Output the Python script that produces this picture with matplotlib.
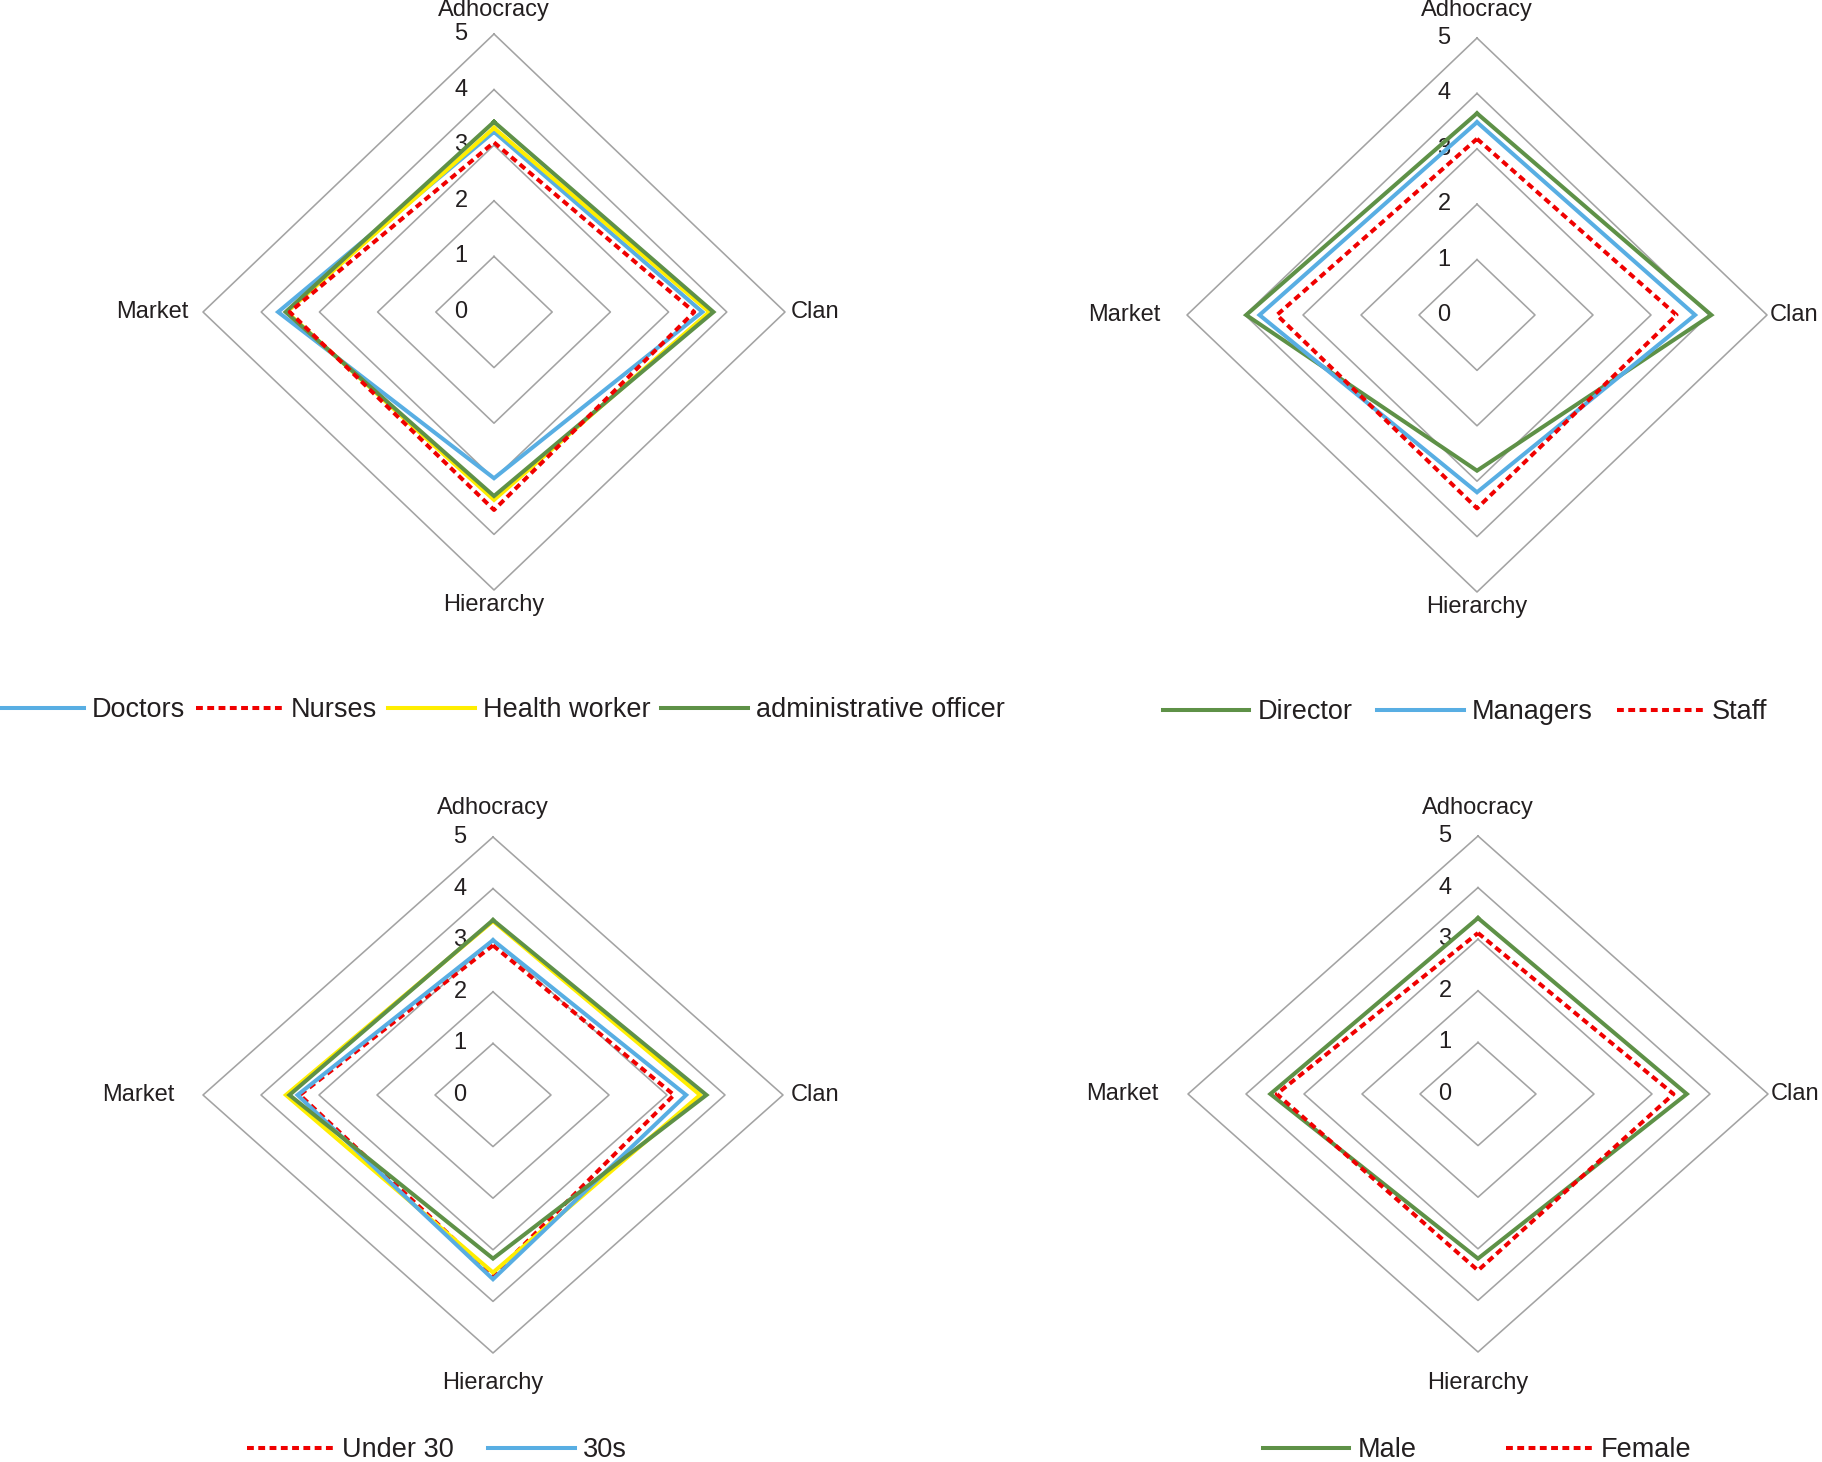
import matplotlib
matplotlib.use('Agg')
import matplotlib.pyplot as plt
from matplotlib.transforms import offset_copy

plt.rcParams['font.family'] = ['Liberation Sans', 'DejaVu Sans']

# ---------------- data ----------------
categories = ['Adhocracy', 'Clan', 'Hierarchy', 'Market']
tick_values = [0, 1, 2, 3, 4, 5]

# panel 1: occupation
p1_labels = ['Doctors', 'Nurses', 'Health worker', 'administrative officer']
p1_doctors = [3.24, 3.58, 2.99, 3.71]
p1_nurses = [3.05, 3.44, 3.56, 3.51]
p1_health = [3.31, 3.70, 3.38, 3.56]
p1_admin = [3.42, 3.77, 3.31, 3.58]

# panel 2: position
p2_labels = ['Director', 'Managers', 'Staff']
p2_director = [3.64, 4.04, 2.81, 3.98]
p2_managers = [3.48, 3.76, 3.20, 3.75]
p2_staff = [3.18, 3.44, 3.49, 3.45]

# panel 3: age
p3_labels = ['Under 30', '30s', '40s', '50s and over']
p3_under30 = [2.90, 3.12, 3.50, 3.33]
p3_30s = [3.00, 3.33, 3.57, 3.37]
p3_40s = [3.37, 3.57, 3.44, 3.57]
p3_50s = [3.39, 3.68, 3.17, 3.51]

# panel 4: gender
p4_labels = ['Male', 'Female']
p4_male = [3.41, 3.60, 3.19, 3.58]
p4_female = [3.12, 3.37, 3.42, 3.47]

# ---------------- styles ----------------
W, H, DPI = 1822, 1462, 100
BLUE = '#58AEE3'
RED = '#F00000'
YELLOW = '#FFEE00'
GREEN = '#5E9147'
GRID = '#A3A3A3'
TXT = '#231F20'
LW = 2.9
DASH = (1.7, 1.1)
DIRS = [(0, 1), (1, 0), (0, -1), (-1, 0)]

fig = plt.figure(figsize=(W / DPI, H / DPI), dpi=DPI)


def make_ax(cx, cy, rx, ry):
    ax = fig.add_axes([(cx - rx) / W, 1 - (cy + ry) / H, 2 * rx / W, 2 * ry / H])
    ax.set_xlim(-5, 5)
    ax.set_ylim(-5, 5)
    ax.axis('off')
    return ax


def poly(vals):
    xs = [d[0] * v for d, v in zip(DIRS, vals)]
    ys = [d[1] * v for d, v in zip(DIRS, vals)]
    return xs + xs[:1], ys + ys[:1]


def decorate(ax, gaps):
    top, right, bottom, left = gaps
    for t in tick_values[1:]:
        xs, ys = poly([t] * 4)
        ax.plot(xs, ys, color=GRID, lw=1.15, zorder=1, clip_on=False)
    tr = offset_copy(ax.transData, fig=fig, x=-33, y=0, units='dots')
    for t in tick_values:
        ax.text(0, t, str(t), transform=tr, ha='center', va='center',
                fontsize=17, color=TXT, zorder=2)
    ax.text(0, 5, categories[0], ha='center', va='center', fontsize=17, color=TXT,
            transform=offset_copy(ax.transData, fig=fig, x=0, y=top, units='dots'))
    ax.text(5, 0, categories[1], ha='left', va='center', fontsize=17, color=TXT,
            transform=offset_copy(ax.transData, fig=fig, x=right, y=0, units='dots'))
    ax.text(0, -5, categories[2], ha='center', va='center', fontsize=17, color=TXT,
            transform=offset_copy(ax.transData, fig=fig, x=0, y=-bottom, units='dots'))
    ax.text(-5, 0, categories[3], ha='right', va='center', fontsize=17, color=TXT,
            transform=offset_copy(ax.transData, fig=fig, x=-left, y=0, units='dots'))


def series(ax, vals, color, dashed=False, z=3):
    xs, ys = poly(vals)
    if dashed:
        ln, = ax.plot(xs, ys, color=color, lw=LW, dashes=DASH, zorder=z,
                      clip_on=False, solid_joinstyle='miter')
    else:
        ln, = ax.plot(xs, ys, color=color, lw=LW, zorder=z, clip_on=False,
                      solid_joinstyle='miter')
    return ln


def legend(ax, handles, labels, cx, cy, cs):
    ax.legend(handles, labels, loc='center', bbox_to_anchor=(cx / W, 1 - cy / H),
              bbox_transform=fig.transFigure, ncol=len(handles), frameon=False,
              fontsize=19.5, handlelength=3.2, handletextpad=0.3, columnspacing=cs,
              borderpad=0, borderaxespad=0, labelcolor=TXT)


# panel 1
ax1 = make_ax(494, 312, 291, 278)
decorate(ax1, (24, 6, 15, 14))
h_doc = series(ax1, p1_doctors, BLUE, z=3)
h_nur = series(ax1, p1_nurses, RED, dashed=True, z=6)
h_hea = series(ax1, p1_health, YELLOW, z=4)
h_adm = series(ax1, p1_admin, GREEN, z=5)
legend(ax1, [h_doc, h_nur, h_hea, h_adm], p1_labels, 501, 710, 0.4)

# panel 2
ax2 = make_ax(1477, 315, 290, 277)
decorate(ax2, (28, 3, 15, 27))
h_dir = series(ax2, p2_director, GREEN, z=3)
h_man = series(ax2, p2_managers, BLUE, z=4)
h_sta = series(ax2, p2_staff, RED, dashed=True, z=5)
legend(ax2, [h_dir, h_man, h_sta], p2_labels, 1465, 712, 0.9)

# panel 3
ax3 = make_ax(493, 1095, 290, 258)
decorate(ax3, (29, 8, 30, 29))
h_u30 = series(ax3, p3_under30, RED, dashed=True, z=3)
h_40 = series(ax3, p3_40s, YELLOW, z=4)
h_30 = series(ax3, p3_30s, BLUE, z=5)
h_50 = series(ax3, p3_50s, GREEN, z=6)
legend(ax3, [h_u30, h_30], p3_labels[:2], 437, 1450, 1.25)

# panel 4
ax4 = make_ax(1478, 1094, 290, 258)
decorate(ax4, (28, 3, 31, 29))
h_m = series(ax4, p4_male, GREEN, z=3)
h_f = series(ax4, p4_female, RED, dashed=True, z=4)
legend(ax4, [h_m, h_f], p4_labels, 1477, 1450, 3.3)

fig.savefig('out.png', dpi=DPI)
